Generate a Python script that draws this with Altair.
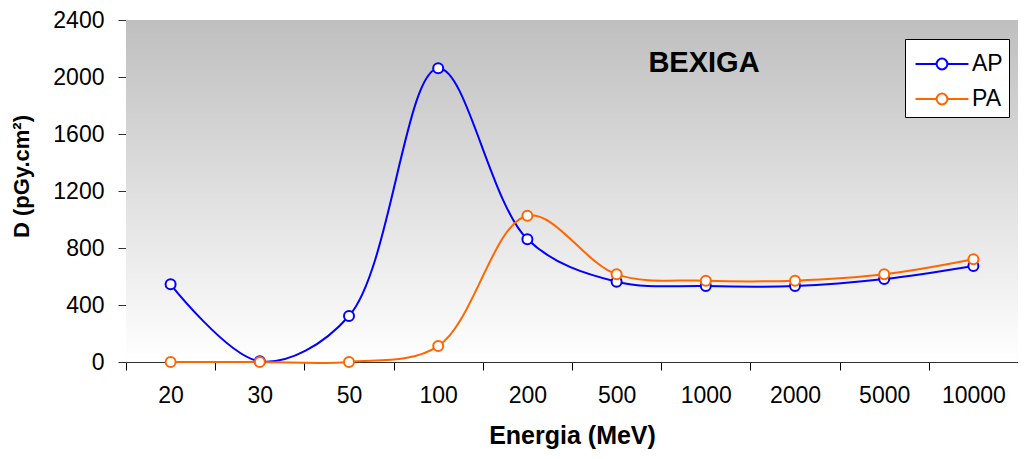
import altair as alt
import pandas as pd

energies = ["20", "30", "50", "100", "200", "500", "1000", "2000", "5000", "10000"]
ap_values = [545, 5, 323, 2061, 861, 563, 533, 533, 582, 674]
pa_values = [0, 0, 0, 112, 1027, 615, 571, 571, 615, 721]
series_names = ["AP", "PA"]
series_colors = ["#0000FF", "#FF6600"]
y_ticks = [0, 400, 800, 1200, 1600, 2000, 2400]
chart_title = "BEXIGA"
x_title = "Energia (MeV)"
y_title = "D (pGy.cm²)"

rows = []
for e, a, p in zip(energies, ap_values, pa_values):
    rows.append({"energy": e, "series": "AP", "dose": a})
    rows.append({"energy": e, "series": "PA", "dose": p})
df = pd.DataFrame(rows)

W, H = 892, 342
FONT = "Liberation Sans"

x_enc = alt.X(
    "energy:N",
    sort=energies,
    scale=alt.Scale(type="band", domain=energies, paddingInner=0, paddingOuter=0),
    axis=alt.Axis(
        title=x_title,
        labelAngle=0,
        tickBand="extent",
        tickSize=8,
        tickColor="#000000",
        domainColor="#303030",
        labelFontSize=23,
        labelPadding=14,
        labelBaseline="top",
        titleFontSize=25,
        titleFontWeight="bold",
        titleY=73,
        titleBaseline="middle",
        grid=False,
    ),
)
y_enc = alt.Y(
    "dose:Q",
    scale=alt.Scale(domain=[0, 2400], nice=False, zero=True),
    axis=alt.Axis(
        title=y_title,
        values=y_ticks,
        format="d",
        tickSize=8,
        tickColor="#303030",
        domainColor="#606060",
        labelFontSize=23,
        labelPadding=14,
        titleFontSize=22,
        titleFontWeight="bold",
        titleX=-105,
        titleY=156,
        titleAngle=270,
        titleAlign="center",
        titleBaseline="middle",
        grid=False,
    ),
)

legend_path = "M-1.47,0H-0.3A0.3,0.3,0,1,1,0.3,0A0.3,0.3,0,1,1,-0.3,0M0.3,0H1.47"
color_enc = alt.Color(
    "series:N",
    scale=alt.Scale(domain=series_names, range=series_colors),
    legend=alt.Legend(
        title=None,
        orient="none",
        legendX=779,
        legendY=19,
        fillColor="white",
        strokeColor="black",
        padding=6,
        symbolType=legend_path,
        symbolSize=1296,
        symbolStrokeWidth=2,
        symbolFillColor="white",
        symbolOffset=12,
        labelOffset=11,
        labelFontSize=23,
        labelFont=FONT,
        labelColor="black",
        rowPadding=4,
    ),
)

bg = alt.Chart(pd.DataFrame({"k": [0]})).mark_rect(
    color=alt.Gradient(
        gradient="linear",
        stops=[alt.GradientStop(color="#bfbfbf", offset=0), alt.GradientStop(color="#ffffff", offset=1)],
        x1=0, x2=0, y1=0, y2=1,
    )
).encode(x=alt.value(0), x2=alt.value(W), y=alt.value(0), y2=alt.value(H))

base = alt.Chart(df)
lines = base.mark_line(interpolate="catmull-rom", strokeWidth=2).encode(
    x=x_enc, y=y_enc, color=color_enc, order=alt.Order("series:N")
)
points = base.mark_point(shape="circle", filled=False, fill="white", fillOpacity=1, size=100, strokeWidth=2, opacity=1).encode(
    x=x_enc, y=y_enc, color=color_enc
)

title_text = alt.Chart(pd.DataFrame({"t": [chart_title]})).mark_text(
    fontSize=29, fontWeight="bold", font=FONT, color="black", align="center", baseline="middle"
).encode(text="t:N", x=alt.value(578), y=alt.value(43))

chart = alt.layer(bg, lines, points, title_text).properties(
    width=W, height=H,
    autosize=alt.AutoSizeParams(type="none"),
    padding={"left": 118, "top": 12, "right": 0, "bottom": 89},
).configure(font=FONT).configure_view(
    stroke="#808080", strokeWidth=1
).configure_axis(
    labelFont=FONT, titleFont=FONT, labelColor="black", titleColor="black"
)

chart.save("out.html", embed_options={"renderer": "svg", "actions": False})
